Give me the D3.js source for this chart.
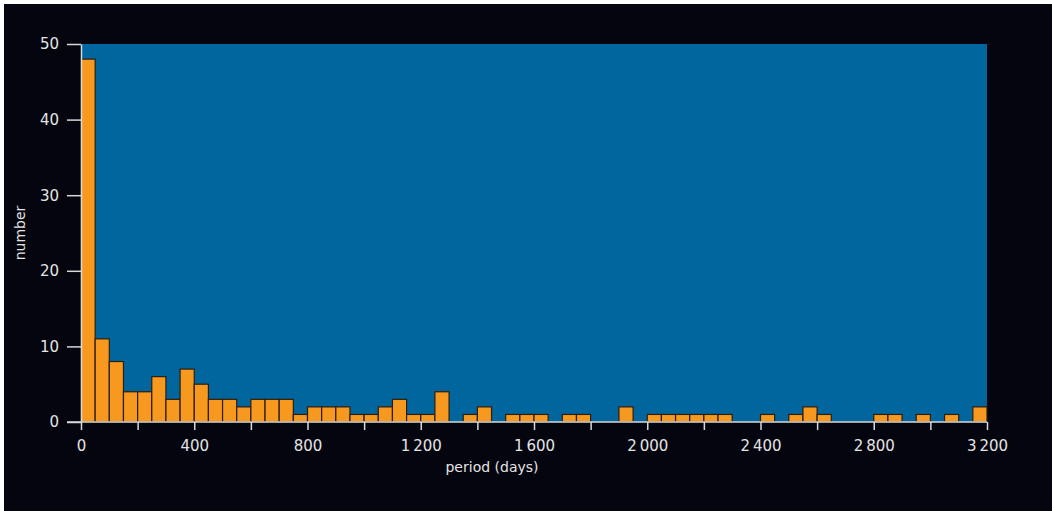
<!DOCTYPE html>
<html lang="en">
<head>
<meta charset="utf-8">
<title>Period histogram</title>
<script src="https://cdn.jsdelivr.net/npm/d3@7"></script>
<style>
  body { margin: 0; background: #ffffff; }
  svg { display: block; }
  .axis text { fill: #e4e4e4; font-family: "DejaVu Sans", sans-serif; font-size: 15px; }
  .axis path, .axis line { stroke: #d8d8d8; stroke-width: 1.5; }
  .label { fill: #e4e4e4; font-family: "DejaVu Sans", sans-serif; font-size: 14px; }
</style>
</head>
<body>
<script>
// bin width 50 days, 0..3200
var binWidth = 50;
var counts = [48, 11, 8, 4, 4, 6, 3, 7, 5, 3, 3, 2, 3, 3, 3, 1,
              2, 2, 2, 1, 1, 2, 3, 1, 1, 4, 0, 1, 2, 0, 1, 1,
              1, 0, 1, 1, 0, 0, 2, 0, 1, 1, 1, 1, 1, 1, 0, 0,
              1, 0, 1, 2, 1, 0, 0, 0, 1, 1, 0, 1, 0, 1, 0, 2];
var xTicks = [0, 200, 400, 600, 800, 1000, 1200, 1400, 1600, 1800, 2000, 2200, 2400, 2600, 2800, 3000, 3200];
var xLabels = [0, 400, 800, 1200, 1600, 2000, 2400, 2800, 3200];
var yTicks = [0, 10, 20, 30, 40, 50];

var W = 1052, H = 511;
var margin = {left: 81, right: 65, top: 44, bottom: 89};

var svg = d3.select("body").append("svg")
  .attr("width", W)
  .attr("height", H);

svg.append("rect")
  .attr("x", 4).attr("y", 4)
  .attr("width", W - 4).attr("height", H - 4)
  .attr("fill", "#05050f");

var x = d3.scaleLinear().domain([0, 3200]).range([margin.left, W - margin.right]);
var y = d3.scaleLinear().domain([0, 50]).range([H - margin.bottom, margin.top]);

svg.append("rect")
  .attr("x", x(0)).attr("y", y(50))
  .attr("width", x(3200) - x(0)).attr("height", y(0) - y(50))
  .attr("fill", "#02669e");

var bins = counts.map(function(c, i) { return {x0: i * binWidth, x1: (i + 1) * binWidth, n: c}; })
  .filter(function(b) { return b.n > 0; });

svg.selectAll("rect.bar")
  .data(bins)
  .enter()
  .append("rect")
  .attr("class", "bar")
  .attr("x", function(d) { return x(d.x0); })
  .attr("y", function(d) { return y(d.n); })
  .attr("width", function(d) { return x(d.x1) - x(d.x0); })
  .attr("height", function(d) { return y(0) - y(d.n); })
  .attr("fill", "#f7981f")
  .attr("stroke", "#2b1d10")
  .attr("stroke-width", 1.2);

var fmt = function(v) {
  return v >= 1000 ? Math.floor(v / 1000) + "\u2009" + d3.format("03d")(v % 1000) : String(v);
};

var xAxis = svg.append("g")
  .attr("class", "axis")
  .attr("transform", "translate(0," + y(0) + ")")
  .call(d3.axisBottom(x).tickValues(xTicks).tickSize(8).tickSizeOuter(0)
    .tickFormat(function(d) { return xLabels.indexOf(d) >= 0 ? fmt(d) : ""; }));
xAxis.select(".domain").attr("d", "M" + (x(0) - 14) + ",0H" + x(3200));
xAxis.selectAll("text").attr("dy", "1.2em");

svg.append("g")
  .attr("class", "axis")
  .attr("transform", "translate(" + x(0) + ",0)")
  .call(d3.axisLeft(y).tickValues(yTicks).tickSize(14).tickSizeOuter(0).tickPadding(8));

svg.append("text")
  .attr("class", "label")
  .attr("x", x(1600) - 42)
  .attr("y", 472)
  .attr("text-anchor", "middle")
  .text("period (days)");

svg.append("text")
  .attr("class", "label")
  .attr("transform", "translate(25," + y(25) + ") rotate(-90)")
  .attr("text-anchor", "middle")
  .text("number");
</script>
</body>
</html>
